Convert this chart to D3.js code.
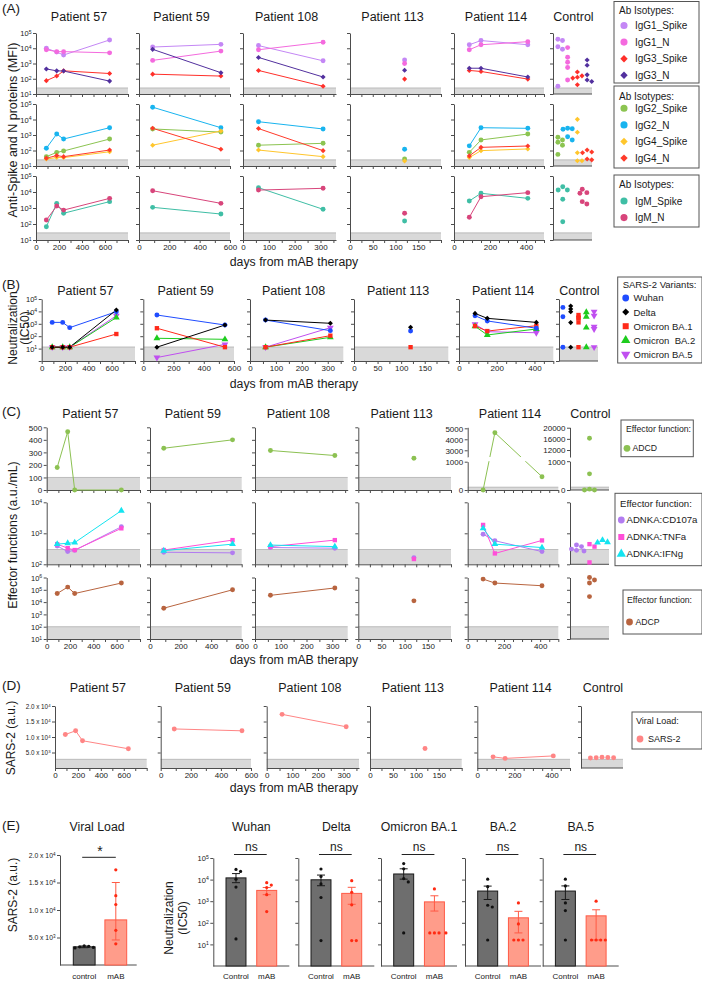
<!DOCTYPE html>
<html><head><meta charset="utf-8">
<script src="https://cdn.jsdelivr.net/npm/d3@7"></script>
<style>body{margin:0;background:#fff;} svg{display:block;}</style>
</head><body>
<script>
// ================= DATA =================
const patients = ["Patient 57","Patient 59","Patient 108","Patient 113","Patient 114"];
const visitDays = [[90,180,240,640],[90,540],[60,310],[120],[85,150,410]];
const dayMax = [800,600,360,200,500];
const dayTickStep = [100,100,50,25,50];
const dayTickLabels = [[0,200,400,600],[0,200,400,600],[0,100,200,300],[0,50,100,150],[0,200,400]];

// (A) Anti-Spike and N proteins (MFI)
const IgG1_Spike = [[10000,5600,3600,35000],[12000,18000],[15000,1500],[1700],[17000,32000,17000]];
const IgG1_Spike_ctrl = [39000,32000,12600,8500,32];
const IgG1_N = [[8000,6000,6000,5000],[1600,6500],[8000,25000],[1000],[8000,17000,27000]];
const IgG1_N_ctrl = [11000,2600,1200,540,83];
const IgG3_Spike = [[75,150,330,220],[200,150],[350,32],[95],[350,300,95]];
const IgG3_Spike_ctrl = [275,155,126,110,40];
const IgG3_N = [[440,330,320,70],[8500,250],[2500,130],[360],[490,490,130]];
const IgG3_N_ctrl = [1700,760,180,83,66];
const IgG2_Spike = [[40,76,93,550],[2450,1550],[220,290],[28],[76,480,1150]];
const IgG2_Spike_ctrl = [710,480,340,220,56];
const IgG2_N = [[140,1150,550,2950],[62000,2950],[7200,2450],[120],[200,2950,2700]];
const IgG2_N_ctrl = [2700,2350,780,480,2500];
const IgG4_Spike = [[28,35,35,83],[220,1800],[107,40],[21],[35,98,126]];
const IgG4_Spike_ctrl = [10200,1500,72,22,22];
const IgG4_N = [[32,47,40,107],[2700,120],[2600,98],[],[45,160,195]];
const IgG4_N_ctrl = [107,72,28,25,80];
const IgM_Spike = [[68,1950,470,2500],[1100,420],[18600,830],[155],[2750,8300,4000]];
const IgM_Spike_ctrl = [13200,21400,13200,3500,138];
const IgM_N = [[178,1320,740,4000],[12000,1950],[13200,17000],[470],[263,5100,9100]];
const IgM_N_ctrl = [9100,14800,8300,1780,2500];

// (B) Neutralization (IC50)
const Wuhan = [[1300,1300,490,9500],[5100,800],[2000,280],[260],[4500,1700,440]];
const Wuhan_ctrl = [21000,3700,13];
const Delta = [[13,13,13,13000],[13,800],[2000,1100],[520],[6900,2750,1300]];
const Delta_ctrl = [27500,15500,9500,1250,13];
const BA1 = [[13,13,13,150],[440,13],[13,110],[13],[660,260,700]];
const BA1_ctrl = [5100,3200,2750,1300,13];
const BA2 = [[13,13,13,3200],[68,56],[13,81],[],[630,126,380]];
const BA2_ctrl = [8500,3700,490,13];
const BA5 = [[13,13,13,4500],[1.9,22],[13,490],[],[910,230,190]];
const BA5_ctrl = [9500,4500,590,380,13];

// (C) Effector functions (a.u./mL)
const ADCD = [[180,465,0,0],[333,400],[315,275],[253],[0,4600,470]];
const ADCD_ctrl = [0,30,0,560,16200];
const CD107a = [[390,257,282,1620],[245,234],[347,331],[162],[933,575,257]];
const CD107a_ctrl = [269,309,372,417,282];
const TNFa = [[447,331,288,1445],[288,603],[372,603],[148],[1862,224,589]];
const TNFa_ctrl = [447,372,115];
const IFNg = [[447,479,501,5370],[275,447],[417,372],[],[1445,447,347]];
const IFNg_ctrl = [603,513,501];
const ADCP = [[50000,166000,50000,355000],[3200,100000],[35500,141000],[12600],[741000,355000,214000]];
const ADCP_ctrl = [631000,1000000,355000,28000];

// (D) Viral load SARS-2 (a.u.)
const SARS2 = [[10800,12000,8800,6200],[12600,12000],[17300,13300],[6300],[3600,3100,3900]];
const SARS2_ctrl = [3300,3400,3500,3300,3200];

// (E) group comparisons
const viralGroups = ["control","mAB"];
const viralDots = [[3500,3300,3400,3200,3100],[17300,12600,11000,6300,3850]];
const viralMean = [3300,8200];
const viralErr = [[3150,3450],[4550,15000]];
const viralSig = "*";
const neutVariants = ["Wuhan","Delta","Omicron BA.1","BA.2","BA.5"];
const neutGroups = ["Control","mAB"];
const neutCtrlDots = [[29500,24000,10500,4500,18],[31000,14000,6300,1480,15],[55000,31600,11200,7800,34],[10500,4700,650,540,16],[10500,5100,830,370,16]];
const neutMabDots = [[7200,5600,4300,2000,330],[8900,2600,680,15,15],[3700,34,34,34,34],[830,89,16,16,16],[1000,16,16,16,16]];
const neutCtrlMean = [12000,9800,18200,2950,2950];
const neutCtrlErr = [[7200,19000],[5200,16200],[10500,31600],[1200,5000],[1200,5100]];
const neutMabMean = [3160,2300,930,170,210];
const neutMabErr = [[2000,4300],[720,4400],[350,1780],[34,340],[16,400]];
const neutSig = ["ns","ns","ns","ns","ns"];

// ================= DRAWING =================
const FONT = '"Liberation Sans", Arial, Helvetica, sans-serif';
const AXC = "#4d4d4d", TXT = "#1a1a1a";
const svg = d3.select("body").append("svg").attr("width",702).attr("height",981).attr("font-family",FONT);

const SHAPES = {
  circle:{t:d3.symbolCircle,s:19,r:0},
  diamond:{t:d3.symbolSquare,s:13,r:45},
  square:{t:d3.symbolSquare,s:19,r:0},
  triangle:{t:d3.symbolTriangle,s:20,r:0},
  tridown:{t:d3.symbolTriangle,s:20,r:180}
};
function mark(g,shape,color,cx,cy,scale){
  const sp = SHAPES[shape];
  return g.append("path").attr("d",d3.symbol(sp.t,sp.s*(scale||1))())
    .attr("transform",`translate(${cx},${cy}) rotate(${sp.r})`).attr("fill",color);
}
function fmtLabel(sel,kind,fs){
  sel.each(function(d){
    const t = d3.select(this); t.text(null);
    let base, sup = null;
    if(kind==="pow"){ base="10"; sup=Math.round(Math.log10(d)); }
    else if(kind==="sci"){ const e=Math.floor(Math.log10(d)+1e-9); base=(d/Math.pow(10,e)).toFixed(1)+" x 10"; sup=e; }
    else base=String(d);
    t.append("tspan").text(base);
    if(sup!==null) t.append("tspan").attr("dy","-0.45em").attr("font-size",(fs*0.68)+"px").text(sup);
  });
}
function yAxis(g,scale,x0,ticks,labels,kind,fs){
  const a = g.append("g").attr("transform",`translate(${x0},0)`)
    .call(d3.axisLeft(scale).tickValues(ticks).tickSize(3).tickSizeOuter(0).tickFormat(""));
  a.attr("font-family",FONT);
  a.selectAll(".tick").filter(d=>labels.indexOf(d)>=0).append("text")
    .attr("x",-4.5).attr("dy","0.35em").attr("text-anchor","end").attr("fill",TXT).attr("font-size",fs+"px")
    .call(s=>fmtLabel(s,kind,fs));
  a.select(".domain").attr("stroke",AXC);
  a.selectAll(".tick line").attr("stroke",AXC);
  return a;
}
function xAxis(g,scale,y0,ticks,labels,fs){
  const a = g.append("g").attr("transform",`translate(0,${y0})`)
    .call(d3.axisBottom(scale).tickValues(ticks).tickSize(3).tickSizeOuter(0).tickFormat(""));
  a.attr("font-family",FONT);
  a.selectAll(".tick").filter(d=>labels.indexOf(d)>=0).append("text")
    .attr("y",9.5).attr("text-anchor","middle").attr("fill",TXT).attr("font-size",fs+"px").text(d=>d);
  a.select(".domain").attr("stroke",AXC);
  a.selectAll(".tick line").attr("stroke",AXC);
  return a;
}
function band(g,x0,x1,yLo,yHi){
  g.append("rect").attr("x",x0).attr("y",yHi).attr("width",x1-x0).attr("height",Math.max(0,yLo-yHi)).attr("fill","#d9d9d9");
  g.append("line").attr("x1",x0).attr("x2",x1).attr("y1",yHi).attr("y2",yHi).attr("stroke","#9e9e9e").attr("stroke-width",0.6);
}
function rowScale(row){
  return (row.kind==="log"? d3.scaleLog() : d3.scaleLinear()).domain(row.domain).range([row.bot,row.top]);
}
function brokenScale(b,row){
  const lo = d3.scaleLinear().domain([0,b.lowMax]).range([row.bot,b.lowTop]);
  const hi = d3.scaleLinear().domain(b.upDomain).range([b.upBot,row.top]);
  const f = v => v<=b.lowMax ? lo(v) : hi(v);
  f.lo = lo; f.hi = hi; return f;
}
function swarm(ys,cx,d){
  const order = ys.map((y,i)=>i).sort((a,b)=>ys[a]-ys[b]);
  const placed = [], out = new Array(ys.length);
  order.forEach(i=>{
    const y = ys[i]; let off = 0;
    if(d>0){
      for(let k=0;k<40;k++){
        const o = k===0 ? 0 : ((k%2)?1:-1)*Math.ceil(k/2)*d/2;
        if(placed.every(p=>Math.hypot(p[0]-(cx+o),p[1]-y)>=d)){ off=o; break; }
      }
    }
    placed.push([cx+off,y]); out[i]=[cx+off,y];
  });
  return out;
}
function panelLetter(txt,y){ svg.append("text").attr("x",2).attr("y",y).attr("font-size","13.5px").attr("fill",TXT).text(txt); }
function vLabel(lines,x,cy,fs,lh){
  lines.forEach((l,i)=>svg.append("text").attr("transform",`translate(${x+i*lh},${cy}) rotate(-90)`)
    .attr("text-anchor","middle").attr("font-size",fs+"px").attr("fill",TXT).text(l));
}
function legend(x,y,w,h,title,items,o){
  const g = svg.append("g");
  g.append("rect").attr("x",x).attr("y",y).attr("width",w).attr("height",h).attr("fill","#fff").attr("stroke","#555").attr("stroke-width",1);
  g.append("text").attr("x",x+o.tx).attr("y",y+o.ty).attr("font-size",o.fs+"px").attr("fill",TXT).text(title);
  items.forEach((it,i)=>{
    const cy = y+o.iy0+i*o.dy;
    mark(g,it.shape,it.color,x+o.mx,cy,o.ms);
    g.append("text").attr("x",x+o.lx).attr("y",cy+o.fs*0.36).attr("font-size",o.fs+"px").attr("fill",TXT).text(it.name);
  });
}

// series definitions (styles)
const sIgG1S={name:"IgG1_Spike",data:IgG1_Spike,ctrl:IgG1_Spike_ctrl,color:"#c487f5",shape:"circle"};
const sIgG1N={name:"IgG1_N",data:IgG1_N,ctrl:IgG1_N_ctrl,color:"#f46ade",shape:"circle"};
const sIgG3S={name:"IgG3_Spike",data:IgG3_Spike,ctrl:IgG3_Spike_ctrl,color:"#ff2f2a",shape:"diamond"};
const sIgG3N={name:"IgG3_N",data:IgG3_N,ctrl:IgG3_N_ctrl,color:"#52309e",shape:"diamond"};
const sIgG2S={name:"IgG2_Spike",data:IgG2_Spike,ctrl:IgG2_Spike_ctrl,color:"#8cc451",shape:"circle"};
const sIgG2N={name:"IgG2_N",data:IgG2_N,ctrl:IgG2_N_ctrl,color:"#18b4ef",shape:"circle"};
const sIgG4S={name:"IgG4_Spike",data:IgG4_Spike,ctrl:IgG4_Spike_ctrl,color:"#ffc62c",shape:"diamond"};
const sIgG4N={name:"IgG4_N",data:IgG4_N,ctrl:IgG4_N_ctrl,color:"#ff3a2a",shape:"diamond"};
const sIgMS={name:"IgM_Spike",data:IgM_Spike,ctrl:IgM_Spike_ctrl,color:"#3fbea5",shape:"circle"};
const sIgMN={name:"IgM_N",data:IgM_N,ctrl:IgM_N_ctrl,color:"#d8457b",shape:"circle"};
const sWu={name:"Wuhan",data:Wuhan,ctrl:Wuhan_ctrl,color:"#1f4cff",shape:"circle",z:4};
const sDe={name:"Delta",data:Delta,ctrl:Delta_ctrl,color:"#000000",shape:"diamond",z:5};
const sB1={name:"Omicron BA.1",data:BA1,ctrl:BA1_ctrl,color:"#ff2a1a",shape:"square",z:3};
const sB2={name:"Omicron\u00a0 BA.2",data:BA2,ctrl:BA2_ctrl,color:"#1ecc1e",shape:"triangle",z:2};
const sB5={name:"Omicron BA.5",data:BA5,ctrl:BA5_ctrl,color:"#c04ff0",shape:"tridown",z:1};
const sADCD={name:"ADCD",data:ADCD,ctrl:ADCD_ctrl,color:"#8cc152",shape:"circle"};
const sCD={name:"ADNKA:CD107a",data:CD107a,ctrl:CD107a_ctrl,color:"#b27cf0",shape:"circle"};
const sTN={name:"ADNKA:TNFa",data:TNFa,ctrl:TNFa_ctrl,color:"#ff4fd8",shape:"square"};
const sIF={name:"ADNKA:IFNg",data:IFNg,ctrl:IFNg_ctrl,color:"#14e4f0",shape:"triangle"};
const sADCP={name:"ADCP",data:ADCP,ctrl:ADCP_ctrl,color:"#b8643f",shape:"circle"};
const sSARS={name:"SARS-2",data:SARS2,ctrl:SARS2_ctrl,color:"#ff8585",shape:"circle"};

const logTicksA=[10,100,1e3,1e4,1e5];
const sections = [
 { cols:[[36,128],[139,230],[243,336],[350,441],[454,544]], ctrl:[553,592], titleY:21, xTitleY:266, swarmD:4.6,
   rows:[
    {top:33,bot:94,kind:"log",domain:[10,1e5],ticks:logTicksA,labels:logTicksA,fmt:"pow",fs:7.5,band:[10,25],series:[sIgG1S,sIgG1N,sIgG3S,sIgG3N]},
    {top:104,bot:166,kind:"log",domain:[10,1e5],ticks:logTicksA,labels:logTicksA,fmt:"pow",fs:7.5,band:[10,25],series:[sIgG2S,sIgG2N,sIgG4S,sIgG4N]},
    {top:176,bot:240,kind:"log",domain:[10,1e5],ticks:logTicksA,labels:logTicksA,fmt:"pow",fs:7.5,band:[10,28],series:[sIgMS,sIgMN]}
   ]},
 { cols:[[41.7,135],[143.3,234],[250,343.3],[354,448.3],[459,553.3]], ctrl:[559,598], titleY:295, xTitleY:388, swarmD:0,
   rows:[
    {top:299,bot:361,kind:"log",domain:[1,1e5],ticks:[1,10,100,1e3,1e4,1e5],labels:[10,100,1e3,1e4,1e5],fmt:"pow",fs:7.5,band:[1,13.5],series:[sWu,sDe,sB1,sB2,sB5]}
   ]},
 { cols:[[46.7,140],[150,241.7],[255,347.7],[358.3,451],[467.7,558.3]], ctrl:[570,609], titleY:418, xTitleY:664, swarmD:5,
   rows:[
    {top:427.3,bot:490,kind:"lin",domain:[0,500],ticks:[0,100,200,300,400,500],labels:[0,100,200,300,400,500],fmt:"plain",fs:8,band:[0,100],series:[sADCD],
     broken:{4:{lowMax:1000,lowTop:461.7,upDomain:[2390,5091],upBot:457,lowTicks:[0,1000],upTicks:[3000,4000,5000]},
             ctrl:{lowMax:1000,lowTop:461.2,upDomain:[9500,20140],upBot:457,lowTicks:[0,1000],upTicks:[12000,16000,20000]}}},
    {top:502.3,bot:564.3,kind:"log",domain:[100,1e4],ticks:[100,1e3,1e4],labels:[100,1e3,1e4],fmt:"pow",fs:7.5,band:[100,300],series:[sCD,sTN,sIF]},
    {top:577.5,bot:639,kind:"log",domain:[10,1e6],ticks:[10,100,1e3,1e4,1e5,1e6],labels:[10,100,1e3,1e4,1e5,1e6],fmt:"pow",fs:7.5,band:[10,100],series:[sADCP]}
   ]},
 { cols:[[55,146.7],[160.7,251],[266.7,359],[370,461.7],[477.3,570]], ctrl:[581,623], titleY:691.5, xTitleY:791.5, swarmD:5.8,
   rows:[
    {top:706,bot:768,kind:"lin",domain:[0,20000],ticks:[5000,10000,15000,20000],labels:[5000,10000,15000,20000],fmt:"sci",fs:6.3,band:[0,2800],series:[sSARS]}
   ]}
];

function drawSection(sec){
  const g = svg.append("g");
  sec.cols.forEach((c,pi)=>g.append("text").attr("x",(c[0]+c[1])/2-3).attr("y",sec.titleY).attr("text-anchor","middle")
      .attr("font-size","12.5px").attr("fill",TXT).text(patients[pi]));
  g.append("text").attr("x",(sec.ctrl[0]+sec.ctrl[1])/2+1).attr("y",sec.titleY).attr("text-anchor","middle")
      .attr("font-size","12.5px").attr("fill",TXT).text("Control");
  g.append("text").attr("x",294).attr("y",sec.xTitleY).attr("text-anchor","middle").attr("font-size","12.3px").attr("fill",TXT).text("days from mAB therapy");
  sec.rows.forEach((row,ri)=>{
    const isBottom = ri===sec.rows.length-1;
    const drawOrder = row.series.slice().sort((a,b)=>(a.z||0)-(b.z||0));
    sec.cols.forEach((c,pi)=>{
      const [x0,x1] = c;
      const x = d3.scaleLinear().domain([0,dayMax[pi]]).range([x0,x1]);
      const br = row.broken && row.broken[pi];
      const y = br ? brokenScale(br,row) : rowScale(row);
      band(g,x0,x1,y(row.band[0]),y(row.band[1]));
      if(br){ yAxis(g,y.lo,x0,br.lowTicks,br.lowTicks,"plain",8); yAxis(g,y.hi,x0,br.upTicks,br.upTicks,"plain",8); }
      else yAxis(g,y,x0,row.ticks,pi===0?row.labels:[],row.fmt,row.fs);
      xAxis(g,x,row.bot,d3.range(0,dayMax[pi]+1e-9,dayTickStep[pi]),isBottom?dayTickLabels[pi]:[],8);
      const days = visitDays[pi];
      drawOrder.forEach(s=>{
        const pts = s.data[pi].map((v,i)=>[days[i],v]);
        if(pts.length>1) g.append("path").attr("d",d3.line().x(d=>x(d[0])).y(d=>y(d[1]))(pts))
          .attr("fill","none").attr("stroke",s.color).attr("stroke-width",1);
      });
      if(br) g.append("rect").attr("x",x0+0.8).attr("y",br.upBot).attr("width",x1-x0).attr("height",br.lowTop-br.upBot-0.5).attr("fill","#fff");
      drawOrder.forEach(s=>s.data[pi].forEach((v,i)=>mark(g,s.shape,s.color,x(days[i]),y(v))));
    });
    // control column
    const [cx0,cx1] = sec.ctrl;
    const xc = d3.scalePoint().domain(d3.range(row.series.length)).range([cx0,cx1]).padding(0.5);
    const brc = row.broken && row.broken.ctrl;
    const yc = brc ? brokenScale(brc,row) : rowScale(row);
    band(g,cx0,cx1,yc(row.band[0]),yc(row.band[1]));
    if(brc){ yAxis(g,yc.lo,cx0,brc.lowTicks,brc.lowTicks,"plain",8); yAxis(g,yc.hi,cx0,brc.upTicks,brc.upTicks,"plain",8); }
    else yAxis(g,yc,cx0,row.ticks,[],row.fmt,row.fs);
    g.append("line").attr("x1",cx0).attr("x2",cx1).attr("y1",row.bot).attr("y2",row.bot).attr("stroke",AXC);
    row.series.forEach((s,k)=>{
      const pos = swarm(s.ctrl.map(v=>yc(v)),xc(k),sec.swarmD);
      pos.forEach(p=>mark(g,s.shape,s.color,p[0],p[1]));
    });
  });
}
sections.forEach(drawSection);

// panel letters & axis titles
panelLetter("(A)",13); panelLetter("(B)",288.5); panelLetter("(C)",416); panelLetter("(D)",689.5); panelLetter("(E)",830);
vLabel(["Anti-Spike and N proteins (MFI)"],17,130,12.5,0);
vLabel(["Neutralization","(IC50)"],17,328,12,11.5);
vLabel(["Effector functions (a.u./mL)"],17,535,12.3,0);
vLabel(["SARS-2 (a.u.)"],15,738,12,0);

// legends
const LA={tx:5,fs:10,mx:10,lx:21,ms:2.1,dy:16.6};
legend(614,1.5,85,81.5,"Ab Isotypes:",[sIgG1S,sIgG1N,sIgG3S,sIgG3N],Object.assign({},LA,{ty:12.5,iy0:24}));
legend(614,86,85,82,"Ab Isotypes:",[sIgG2S,sIgG2N,sIgG4S,sIgG4N],Object.assign({},LA,{ty:13.5,iy0:22.3}));
legend(614,175,85,52,"Ab Isotypes:",[sIgMS,sIgMN],Object.assign({},LA,{ty:12.6,iy0:26}));
legend(617.7,277,84.3,86,"SARS-2 Variants:",[sWu,sDe,sB1,sB2,sB5],{tx:5,ty:10.6,fs:9.5,mx:8,lx:15.8,ms:1.9,iy0:21,dy:14.1});
legend(621,420,72.3,36.7,"Effector function:",[sADCD],{tx:5,ty:12.2,fs:8.7,mx:6,lx:11.5,ms:1.9,iy0:28.3,dy:0});
legend(615,493.3,87,72.4,"Effector function:",[sCD,sTN,sIF],{tx:5,ty:13.2,fs:9.6,mx:6.3,lx:11.5,ms:1.9,iy0:26.7,dy:17});
legend(623,590,79,44,"Effector function:",[sADCP],{tx:4,ty:13,fs:8.7,mx:6.5,lx:12.5,ms:1.9,iy0:32,dy:0});
legend(632,712,70,37,"Viral Load:",[sSARS],{tx:4,ty:12,fs:9,mx:8,lx:16,ms:1.9,iy0:27,dy:0});

// ================= (E) =================
const BAR_FILL=["#6e6e6e","#ff9c8a"], BAR_STROKE=["#1a1a1a","#ff5a45"], DOT=["#111111","#ff2a12"];
function barGroup(g,xb,y,groups,means,errs,dots,yBase){
  groups.forEach((grp,i)=>{
    const bx = xb(grp), bw = xb.bandwidth(), cx = bx+bw/2;
    g.append("rect").attr("x",bx).attr("y",y(means[i])).attr("width",bw).attr("height",yBase-y(means[i]))
      .attr("fill",BAR_FILL[i]).attr("stroke",BAR_STROKE[i]).attr("stroke-width",1);
    const [lo,hi] = errs[i];
    g.append("line").attr("x1",cx).attr("x2",cx).attr("y1",y(lo)).attr("y2",y(hi)).attr("stroke",BAR_STROKE[i]).attr("stroke-width",1);
    [lo,hi].forEach(v=>g.append("line").attr("x1",cx-4).attr("x2",cx+4).attr("y1",y(v)).attr("y2",y(v)).attr("stroke",BAR_STROKE[i]).attr("stroke-width",1));
    swarm(dots[i].map(v=>y(v)),cx,4.6).forEach(p=>g.append("circle").attr("cx",p[0]).attr("cy",p[1]).attr("r",1.6).attr("fill",DOT[i]));
    g.append("text").attr("x",cx).attr("y",978.5).attr("text-anchor","middle").attr("font-size","8px").attr("fill",TXT).text(grp);
  });
}
function sig(g,xb,groups,txt,isStar){
  const c0 = xb(groups[0])+xb.bandwidth()/2, c1 = xb(groups[1])+xb.bandwidth()/2;
  g.append("line").attr("x1",c0-2).attr("x2",c1).attr("y1",isStar?857.3:854.5).attr("y2",isStar?857.3:854.5).attr("stroke","#222").attr("stroke-width",1);
  g.append("text").attr("x",(c0+c1)/2).attr("y",isStar?856:850.5).attr("text-anchor","middle")
    .attr("font-size",isStar?"14px":"12px").attr("fill",TXT).text(txt);
  return (c0+c1)/2;
}
const gE = svg.append("g");
// viral load
{
  const x0=60, x1=136.7, yB=965;
  const y = d3.scaleLinear().domain([0,20000]).range([yB,855]);
  const xb = d3.scaleBand().domain(viralGroups).range([x0+13.3,x0+66.7]).paddingInner(0.31);
  yAxis(gE,y,x0,[5000,10000,15000,20000],[5000,10000,15000,20000],"sci",6.8);
  gE.append("line").attr("x1",x0).attr("x2",x1).attr("y1",yB).attr("y2",yB).attr("stroke",AXC);
  barGroup(gE,xb,y,viralGroups,viralMean,viralErr,viralDots,yB);
  const mid = sig(gE,xb,viralGroups,viralSig,true);
  gE.append("text").attr("x",mid-3).attr("y",831).attr("text-anchor","middle").attr("font-size","12.3px").attr("fill",TXT).text("Viral Load");
}
vLabel(["SARS-2 (a.u.)"],17,895,12,0);
// neutralization
const nAxisX=[213.3,298.3,381,465,542.7];
neutVariants.forEach((v,k)=>{
  const x0=nAxisX[k], yB=966;
  const y = d3.scaleLog().domain([1,1e5]).range([yB,858]);
  const xb = d3.scaleBand().domain(neutGroups).range([x0+12.7,x0+63.4]).paddingInner(0.35);
  const lt=[10,100,1e3,1e4,1e5];
  yAxis(gE,y,x0,lt,k===0?lt:[],"pow",7.5);
  gE.append("line").attr("x1",x0).attr("x2",x0+76).attr("y1",yB).attr("y2",yB).attr("stroke",AXC);
  barGroup(gE,xb,y,neutGroups,[neutCtrlMean[k],neutMabMean[k]],[neutCtrlErr[k],neutMabErr[k]],[neutCtrlDots[k],neutMabDots[k]],yB);
  const mid = sig(gE,xb,neutGroups,neutSig[k],false);
  gE.append("text").attr("x",mid).attr("y",831).attr("text-anchor","middle").attr("font-size","12.3px").attr("fill",TXT).text(v);
});
vLabel(["Neutralization","(IC50)"],173,918,12,13.5);
</script>
</body></html>
